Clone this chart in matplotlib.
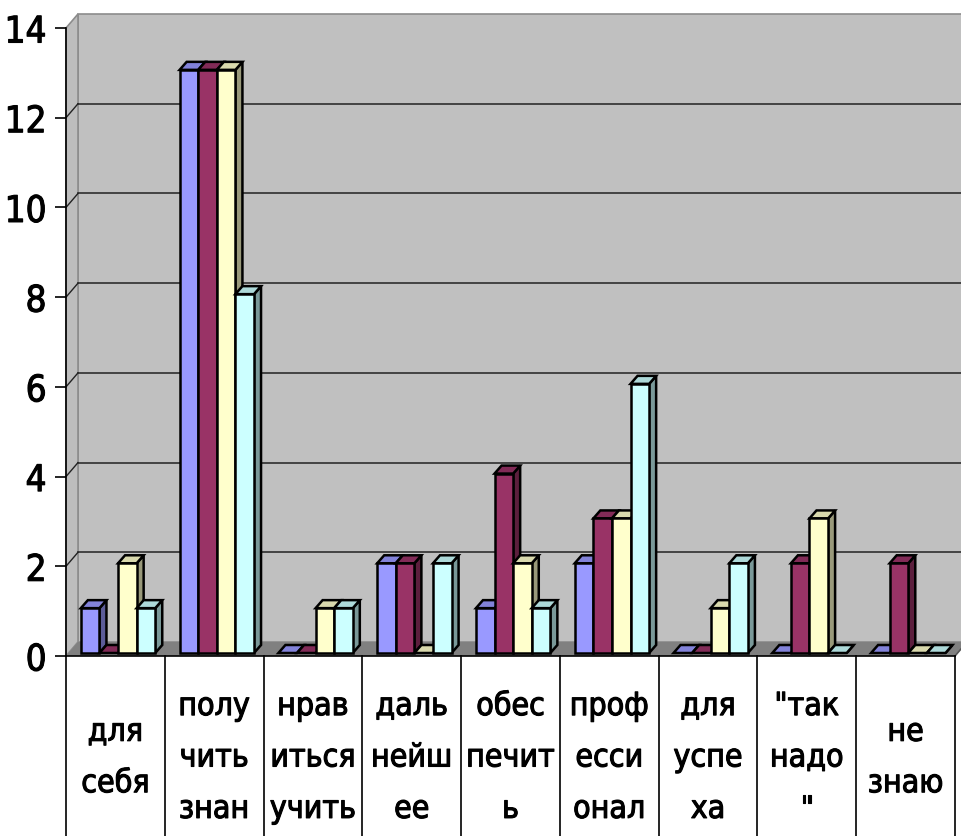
import matplotlib
matplotlib.use("Agg")
import matplotlib.pyplot as plt
from matplotlib import font_manager as fm
from matplotlib import patheffects as pe
from matplotlib.patches import Polygon
import numpy as np

# data
categories = ["для\nсебя", "полу\nчить\nзнан", "нрав\nиться\nучить", "даль\nнейш\nее",
              "обес\nпечит\nь", "проф\nесси\nонал", "для\nуспе\nха", "\"так\nнадо\n\"", "не\nзнаю"]
series_1 = [1, 13, 0, 2, 1, 2, 0, 0, 0]
series_2 = [0, 13, 0, 2, 4, 3, 0, 2, 2]
series_3 = [2, 13, 1, 0, 2, 3, 1, 3, 0]
series_4 = [1, 8, 1, 2, 1, 6, 2, 0, 0]
series = [series_1, series_2, series_3, series_4]
colors = ["#9999FF", "#993366", "#FFFFCC", "#CCFFFF"]
yticks = list(range(0, 15, 2))


def pick_font():
    fonts = fm.fontManager.ttflist
    for f in fonts:
        if f.name == "Liberation Sans Narrow":
            return {"family": "Liberation Sans Narrow"}, 1.0
    for f in fonts:
        if f.name == "DejaVu Sans" and str(f.stretch) in ("condensed", "semi-condensed", "600"):
            return {"family": "DejaVu Sans", "stretch": "condensed"}, 0.85
    return {"family": "DejaVu Sans"}, 0.78


font, fscale = pick_font()
thick = [pe.withStroke(linewidth=0.8, foreground="black")]

W, H = 961, 836
x0, x1, y_top, y_bot = 66, 955, 28, 656
fig = plt.figure(figsize=(W / 100, H / 100), dpi=100)
ax = fig.add_axes([x0 / W, 1 - y_bot / H, (x1 - x0) / W, (y_bot - y_top) / H])
n = len(categories)
ax.set_xlim(0, n)
ax.set_ylim(0, 14)
ax.patch.set_visible(False)

px = n / (x1 - x0)   # data units per pixel, x
py = 14 / (y_bot - y_top)  # data units per pixel, y
DX, DY = 12 * px, 14 * py

# walls and floor
ax.add_patch(Polygon([(DX, DY), (n + DX, DY), (n + DX, 14 + DY), (DX, 14 + DY)],
                     closed=True, fc="#C0C0C0", ec="#8C8C8C", lw=1.2, clip_on=False, zorder=0))
ax.add_patch(Polygon([(0, 0), (0, 14), (DX, 14 + DY), (DX, DY)],
                     closed=True, fc="#BDBDBD", ec="#8C8C8C", lw=1.2, clip_on=False, zorder=0))
ax.add_patch(Polygon([(0, 0), (n, 0), (n + DX, DY), (DX, DY)],
                     closed=True, fc="#808080", ec="none", clip_on=False, zorder=0.5))
ax.plot([n, n + DX], [0, DY], color="#555555", lw=1.2, clip_on=False, zorder=0.6)

# gridlines on the back wall and the left wall
for t in yticks[1:-1]:
    ax.plot([DX, n + DX], [t + DY, t + DY], color="#222222", lw=1.1, clip_on=False, zorder=1)
    ax.plot([0, DX], [t, t + DY], color="#222222", lw=1.0, clip_on=False, zorder=1)

# bars with a little depth
fx, fy = 3 * px, 3 * py
bx, by = 7 * px, 8 * py
bw = 18.6 * px
off0 = 0.12


def shade(c, k):
    rgb = np.array(matplotlib.colors.to_rgb(c))
    return tuple(rgb * k)


for c in range(n):
    for s, vals in enumerate(series):
        v = vals[c]
        l = c + off0 + s * bw + fx
        r = l + bw
        b = fy
        t = v + fy
        col = colors[s]
        ax.add_patch(Polygon([(r, b), (r + bx, b + by), (r + bx, t + by), (r, t)], closed=True,
                             fc=shade(col, 0.6), ec="black", lw=1.8, zorder=2, clip_on=False))
        ax.add_patch(Polygon([(l, t), (r, t), (r + bx, t + by), (l + bx, t + by)], closed=True,
                             fc=shade(col, 0.85), ec="black", lw=1.8, zorder=2, clip_on=False))
        if v > 0:
            ax.add_patch(Polygon([(l, b), (r, b), (r, t), (l, t)], closed=True,
                                 fc=col, ec="black", lw=1.8, zorder=2, clip_on=False))

# category table below the floor
ybox = -(H - y_bot + 5) * py
ax.plot([0, n], [0, 0], color="black", lw=1.2, clip_on=False, zorder=3)
for c in range(n + 1):
    ax.plot([c, c], [0, ybox], color="black", lw=1.2, clip_on=False, zorder=3)
ylab = -(758 - y_bot) * py
for c, lab in enumerate(categories):
    ax.text(c + 0.5, ylab, lab, ha="center", va="center", multialignment="center",
            fontsize=27 * fscale, linespacing=1.7 if fscale == 1.0 else 1.85,
            path_effects=thick, **font)

# y axis
for side in ("top", "right", "bottom"):
    ax.spines[side].set_visible(False)
ax.spines["left"].set_color("black")
ax.spines["left"].set_linewidth(1.2)
ax.set_xticks([])
ax.set_yticks(yticks)
ax.set_yticklabels([str(t) for t in yticks])
ax.tick_params(axis="y", direction="out", length=8, width=1.2, color="black", pad=6)
for lbl in ax.get_yticklabels():
    lbl.set_fontproperties(fm.FontProperties(size=31 * fscale, **font))
    lbl.set_path_effects(thick)

fig.savefig("out.png", dpi=100, facecolor="white")
